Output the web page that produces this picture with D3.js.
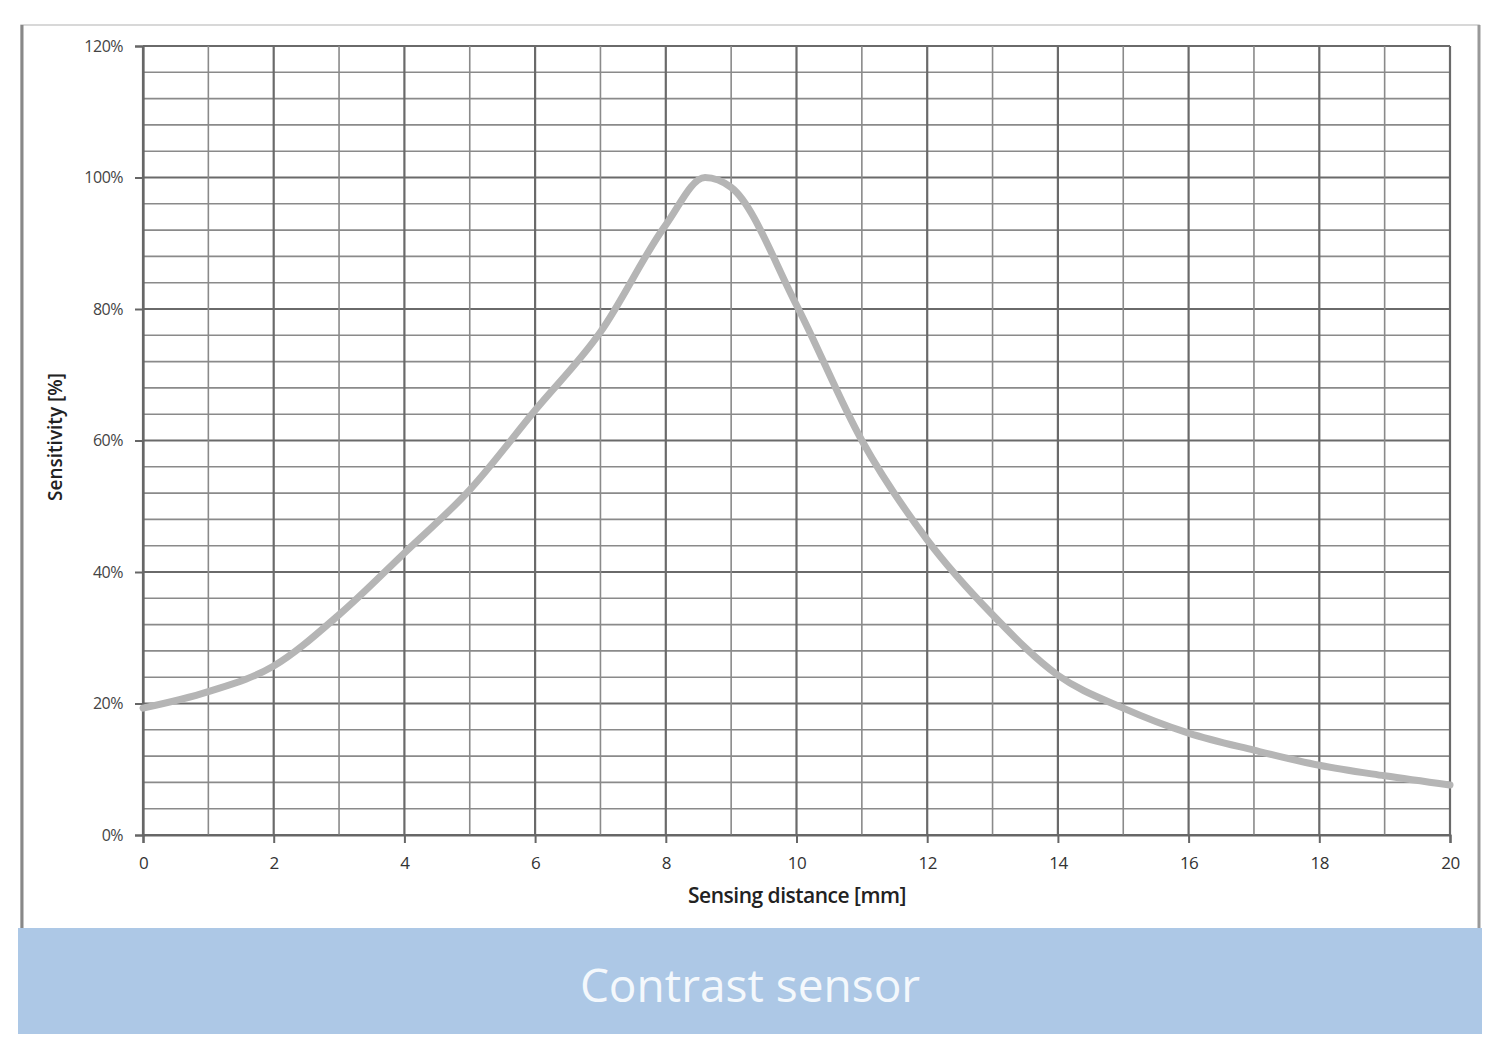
<!DOCTYPE html>
<html><head><meta charset="utf-8">
<script src="https://cdn.jsdelivr.net/npm/d3@7"></script>
<style>body{margin:0;background:#fff}</style></head>
<body><svg id="c" width="1500" height="1053"></svg>
<script>
const distance = [0,1,2,3,4,5,6,7,8,8.6,9,10,11,12,13,14,15,16,17,18,19,20];
const sensitivity = [19.3,21.8,25.7,33.5,42.9,52.5,64.6,76.5,92.8,100,98.5,80.6,60,44.9,33.5,24.3,19.3,15.5,12.9,10.6,9,7.6];
const xTicks = [0,2,4,6,8,10,12,14,16,18,20];
const yTicks = [0,20,40,60,80,100,120];
const title = "Contrast sensor";
const xTitle = "Sensing distance [mm]";
const yTitle = "Sensitivity [%]";

const svg = d3.select("#c");
const L=143,R=1450,T=46,B=835;
const x = d3.scaleLinear().domain([0,20]).range([L,R]);
const y = d3.scaleLinear().domain([0,120]).range([B,T]);

// frame
svg.append("rect").attr("x",21).attr("y",25).attr("width",1458).attr("height",905).attr("fill","#fff").attr("stroke","#ccc").attr("stroke-width",1.5);
svg.append("line").attr("x1",22).attr("x2",22).attr("y1",25).attr("y2",930).attr("stroke","#888").attr("stroke-width",3);
svg.append("line").attr("x1",1479).attr("x2",1479).attr("y1",25).attr("y2",930).attr("stroke","#999").attr("stroke-width",3);

// banner
svg.append("rect").attr("x",18).attr("y",928).attr("width",1464).attr("height",106).attr("fill","#adc8e6");
svg.append("text").attr("x",750).attr("y",1002).attr("text-anchor","middle")
  .attr("font-family","Open Sans, sans-serif").attr("font-size",46).attr("fill","#f4f8fc").text(title);

const g = svg.append("g");
g.selectAll(".hm").data(d3.range(0,121,4)).join("line")
  .attr("x1",L).attr("x2",R).attr("y1",d=>y(d)).attr("y2",d=>y(d))
  .attr("stroke",d=>d%20===0?"#6a6a6a":"#8a8a8a").attr("stroke-width",d=>d%20===0?2.2:1.6);
g.selectAll(".vm").data(d3.range(0,21,1)).join("line")
  .attr("y1",T).attr("y2",B).attr("x1",d=>x(d)).attr("x2",d=>x(d))
  .attr("stroke",d=>d%2===0?"#6a6a6a":"#8a8a8a").attr("stroke-width",d=>d%2===0?2.2:1.6);

const xa = svg.append("g").attr("transform",`translate(0,${B})`)
  .call(d3.axisBottom(x).tickValues(xTicks).tickSize(8).tickPadding(14).tickFormat(d3.format("d")));
const ya = svg.append("g").attr("transform",`translate(${L},0)`)
  .call(d3.axisLeft(y).tickValues(yTicks).tickSize(8).tickPadding(12).tickFormat(d=>d+"%"));
[xa,ya].forEach(a=>{
  a.select(".domain").attr("stroke","#666").attr("stroke-width",2.2);
  a.selectAll(".tick line").attr("stroke","#666").attr("stroke-width",2);
  a.selectAll(".tick text").attr("font-family","Open Sans, sans-serif").attr("font-size",16).attr("fill","#444").attr("letter-spacing",-0.5);
});
xa.selectAll(".tick text").attr("font-size",17).attr("fill","#333");

svg.append("path").datum(distance.map((d,i)=>[d,sensitivity[i]]))
  .attr("d",d3.line().x(d=>x(d[0])).y(d=>y(d[1])).curve(d3.curveMonotoneX))
  .attr("fill","none").attr("stroke","#b5b5b5").attr("stroke-width",7).attr("stroke-linecap","round");

svg.append("text").attr("x",797).attr("y",903).attr("text-anchor","middle")
  .attr("font-family","Open Sans, sans-serif").attr("font-size",21).attr("font-weight",600).attr("fill","#222")
  .attr("letter-spacing",-0.5).text(xTitle);
svg.append("text").attr("transform","translate(62,437) rotate(-90)").attr("text-anchor","middle")
  .attr("font-family","Open Sans, sans-serif").attr("font-size",19).attr("font-weight",600).attr("fill","#222")
  .text(yTitle);
</script></body></html>
